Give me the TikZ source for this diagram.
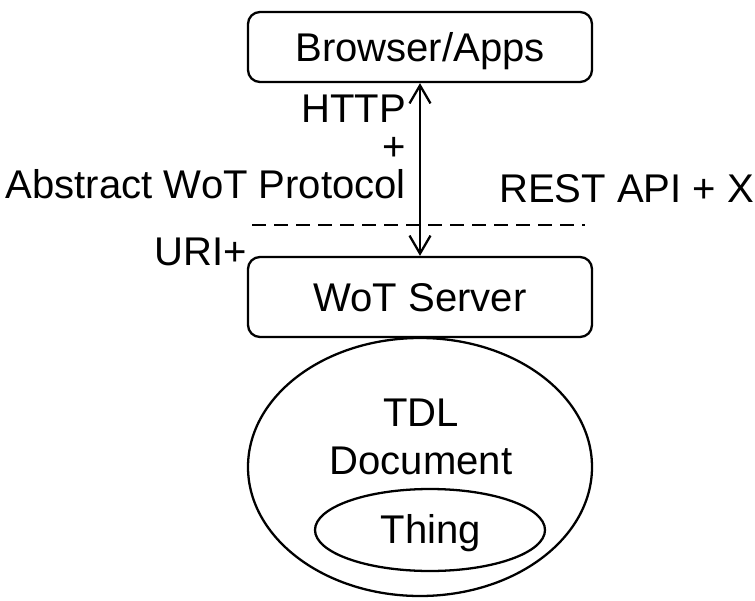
\documentclass[tikz,border=0pt]{standalone}
\usepackage{fontspec}
\setmainfont{Liberation Sans}
\usetikzlibrary{arrows.meta}
\begin{document}
\begin{tikzpicture}[>={Straight Barb[length=3.6mm,width=4.2mm]},line width=1.3pt,
  every node/.style={font=\fontsize{22.8}{21.6}\selectfont,inner sep=0pt},
  box/.style={draw,rounded corners=2.4mm,minimum width=6.88cm,text height=5.7mm,text depth=0pt}]
\useasboundingbox (0,0) rectangle (15.1,12);
\node[box,minimum height=1.4cm] (browser) at (8.4,11.06) {Browser/Apps};
\node[box,minimum height=1.6cm] (server) at (8.4,6.06) {WoT Server};
\draw (8.4,2.66) ellipse [x radius=3.44,y radius=2.58];
\draw (8.6,1.4) ellipse [x radius=2.3,y radius=0.82];
\node[anchor=base,align=center,font=\fontsize{22.8}{27.3}\selectfont] (tdl) at (8.42,2.52) {TDL\\Document};
\node[anchor=base] (thing) at (8.62,1.14) {Thing};
\draw[<->] (browser.south) -- (server.north);
\draw[dash pattern=on 2.8mm off 1.6mm] (5.04,7.5) -- (11.7,7.5);
\node[anchor=base east,align=right] (proto) at (8.14,8.04) {HTTP\\+\\Abstract WoT Protocol};
\node[anchor=base west] (rest) at (9.96,7.94) {REST API + X};
\node[anchor=base east] (uri) at (4.96,6.7) {URI+};
\end{tikzpicture}
\end{document}
